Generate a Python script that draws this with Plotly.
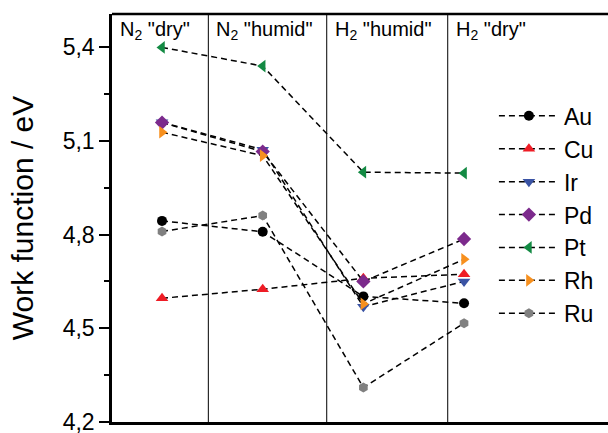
import plotly.graph_objects as go

conditions = [1, 2, 3, 4]
condition_labels = ['N<sub>2</sub> "dry"', 'N<sub>2</sub> "humid"', 'H<sub>2</sub> "humid"', 'H<sub>2</sub> "dry"']
separators = [1.46, 2.636, 3.838]
label_starts = [0.503, 1.46, 2.636, 3.838]

metals = ["Au", "Cu", "Ir", "Pd", "Pt", "Rh", "Ru"]
au = [4.844, 4.809, 4.602, 4.580]
cu = [4.596, 4.625, 4.660, 4.673]
ir = [5.160, 5.072, 4.569, 4.650]
pd_ = [5.159, 5.066, 4.650, 4.786]
pt = [5.400, 5.340, 5.000, 4.997]
rh = [5.128, 5.053, 4.578, 4.721]
ru = [4.810, 4.861, 4.310, 4.516]
values = [au, cu, ir, pd_, pt, rh, ru]

colors = ["#000000", "#ee1c25", "#3a53a4", "#7c2a8c", "#138a43", "#f7901e", "#808080"]
symbols = ["circle", "triangle-up", "triangle-down", "diamond", "triangle-left", "triangle-right", "hexagon"]
sizes = [10, 11, 11, 11, 11, 11, 10]

fig = go.Figure()
for i, (name, vals) in enumerate(zip(metals, values)):
    fig.add_trace(go.Scatter(
        x=conditions, y=vals, name=name, mode="lines+markers",
        legendgroup=name,
        line=dict(color="black", width=1.5, dash="6px,4px"),
        marker=dict(symbol=symbols[i], color=colors[i], size=sizes[i], line=dict(width=0)),
    ))

for s in separators:
    fig.add_shape(type="line", xref="x", yref="paper", x0=s, x1=s, y0=0, y1=1,
                  line=dict(color="black", width=1))
fig.add_shape(type="line", xref="paper", yref="paper", x0=0, x1=1, y0=1, y1=1,
              line=dict(color="black", width=2.5))

for start, lab in zip(label_starts, condition_labels):
    fig.add_annotation(x=start, xref="x", y=1, yref="paper", text=lab, showarrow=False,
                       xanchor="left", yanchor="top", xshift=6, yshift=-2,
                       font=dict(size=20, color="black"))

fig.update_layout(
    width=608, height=433,
    margin=dict(l=112, r=0, t=14, b=11, autoexpand=False),
    paper_bgcolor="white", plot_bgcolor="white",
    separators=",.",
    font=dict(family="Liberation Sans, Arial, sans-serif", color="black"),
    showlegend=True,
    legend=dict(x=0.77, y=0.803, xanchor="left", yanchor="top",
                font=dict(size=23), itemwidth=60, tracegroupgap=0,
                bgcolor="rgba(0,0,0,0)", traceorder="grouped"),
)
fig.update_xaxes(range=[0.503, 5.43], showgrid=False, zeroline=False, showticklabels=False,
                 ticks="", showline=True, linecolor="black", linewidth=2.5, automargin=False)
fig.update_yaxes(range=[4.1995, 5.507], tick0=4.2, dtick=0.3, tickformat=".1f",
                 showgrid=False, zeroline=False, showline=True, linecolor="black", linewidth=2.5,
                 ticks="outside", ticklen=10, tickwidth=2, tickcolor="black",
                 tickfont=dict(size=23), automargin=False, ticklabeloverflow="allow",
                 minor=dict(dtick=0.15, tick0=4.2, ticks="outside", ticklen=5, tickwidth=2, tickcolor="black"),
                 title=dict(text="Work function / eV", font=dict(size=30), standoff=21))

fig.write_html("out.html", config={"displayModeBar": False},
               post_script="document.body.style.margin='0';document.body.style.overflow='hidden';")
